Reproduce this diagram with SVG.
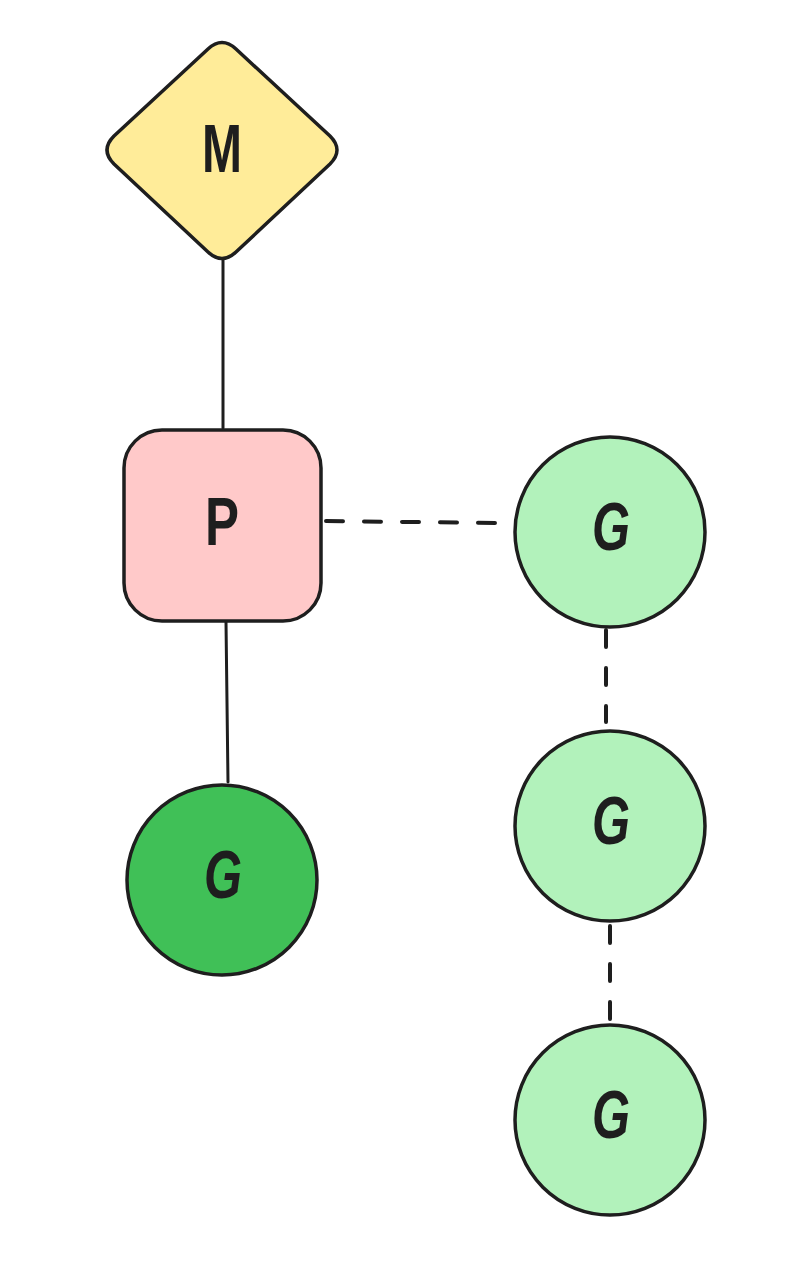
<svg xmlns="http://www.w3.org/2000/svg" width="796" height="1272" viewBox="0 0 796 1272">
  <style>
    .shape { stroke: #1e1e1e; stroke-width: 3.5; stroke-linejoin: round; }
    .line { stroke: #1e1e1e; stroke-width: 3; fill: none; stroke-linecap: round; }
    .dash { stroke: #1e1e1e; stroke-width: 4; fill: none; stroke-linecap: round; stroke-dasharray: 17 21; }
    .lbl { font-family: "Liberation Sans", "DejaVu Sans", sans-serif; font-size: 68px; fill: #1e1e1e; text-anchor: middle; font-weight: bold; }
    .g { font-style: italic; }
  </style>
  <rect width="796" height="1272" fill="#ffffff"/>
  <g id="connectors">
    <line class="line" x1="223" y1="260" x2="223" y2="428"/>
    <line class="line" x1="226" y1="622" x2="228" y2="782"/>
    <line class="dash" x1="326" y1="521" x2="497" y2="523"/>
    <line class="dash" x1="606" y1="630" x2="606" y2="722"/>
    <line class="dash" x1="610" y1="926" x2="610" y2="1022"/>
  </g>
  <g id="node-M">
    <path class="shape" fill="#ffec99" d="M208,49 Q222,36 236,49 L330,136 Q344,150 330,164 L236,252 Q222,265 208,252 L114,164 Q100,150 114,136 Z"/>
    <text class="lbl" x="222" y="172" textLength="40" lengthAdjust="spacingAndGlyphs">M</text>
  </g>
  <g id="node-P">
    <rect class="shape" fill="#ffc9c9" x="124" y="430" width="197" height="191" rx="38" ry="38"/>
    <text class="lbl" x="222" y="545" textLength="34" lengthAdjust="spacingAndGlyphs">P</text>
  </g>
  <g id="node-G-active">
    <circle class="shape" fill="#40c057" cx="222" cy="880" r="95"/>
    <text class="lbl g" x="223" y="898" textLength="38" lengthAdjust="spacingAndGlyphs">G</text>
  </g>
  <g id="node-G1">
    <circle class="shape" fill="#b2f2bb" cx="610" cy="532" r="95"/>
    <text class="lbl g" x="611" y="550" textLength="38" lengthAdjust="spacingAndGlyphs">G</text>
  </g>
  <g id="node-G2">
    <circle class="shape" fill="#b2f2bb" cx="610" cy="826" r="95"/>
    <text class="lbl g" x="611" y="844" textLength="38" lengthAdjust="spacingAndGlyphs">G</text>
  </g>
  <g id="node-G3">
    <circle class="shape" fill="#b2f2bb" cx="610" cy="1120" r="95"/>
    <text class="lbl g" x="611" y="1138" textLength="38" lengthAdjust="spacingAndGlyphs">G</text>
  </g>
</svg>
